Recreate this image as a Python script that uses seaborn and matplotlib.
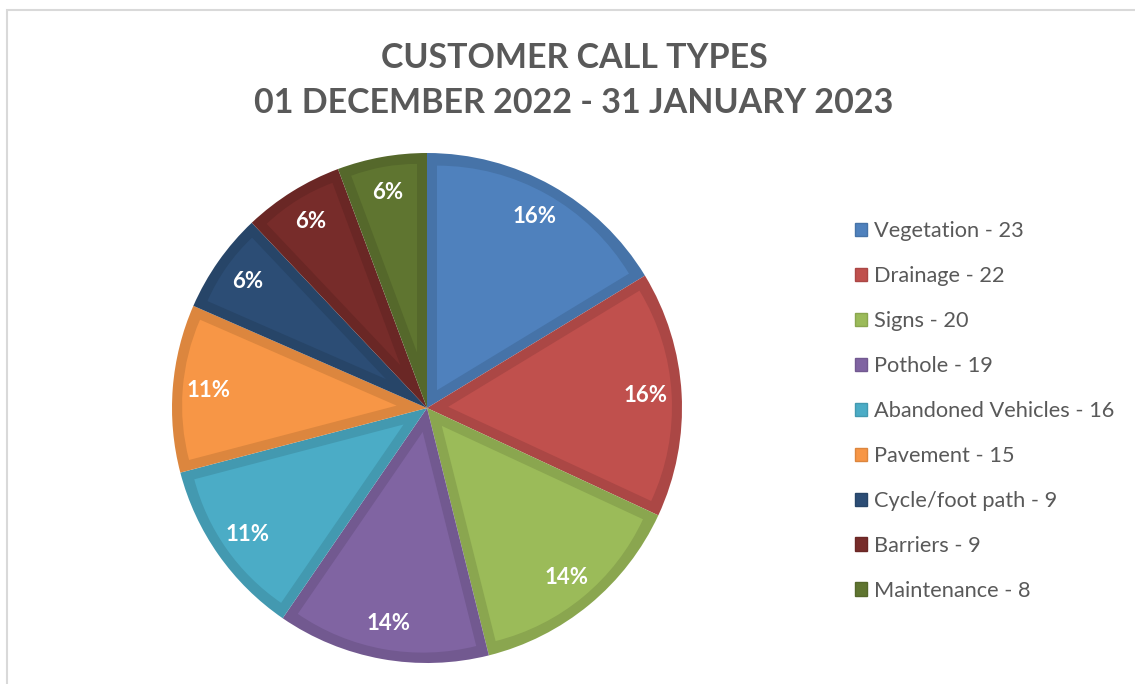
import numpy as np
import seaborn as sns
import matplotlib.pyplot as plt
from matplotlib.colors import to_rgb
from matplotlib.patches import Rectangle, Wedge

sns.set_theme(style="white")
plt.rcParams['font.family'] = ['Lato', 'DejaVu Sans']

# data
categories = ["Vegetation", "Drainage", "Signs", "Pothole", "Abandoned Vehicles",
              "Pavement", "Cycle/foot path", "Barriers", "Maintenance"]
counts = [23, 22, 20, 19, 16, 15, 9, 9, 8]
pct_labels = ["16%", "16%", "14%", "14%", "11%", "11%", "6%", "6%", "6%"]
colors = ["#4F81BD", "#C0504D", "#9BBB59", "#8064A2", "#4BACC6",
          "#F79646", "#2C4D75", "#772C2A", "#5F7530"]

title = "CUSTOMER CALL TYPES\n01 DECEMBER 2022 - 31 JANUARY 2023"
grey = "#595959"


def darker(c, f=0.89):
    return tuple(np.array(to_rgb(c)) * f)


fig = plt.figure(figsize=(11.35, 6.84), dpi=100)

# light frame (only top and left edges are inside the picture)
fig.patches.append(Rectangle((6.5 / 1135, -0.1), 1.2, 1.1 - 10.5 / 684,
                             transform=fig.transFigure, fill=False,
                             edgecolor="#D9D9D9", linewidth=1.5))

cx, cy, r = 427, 408, 255
ax = fig.add_axes([(cx - r) / 1135, (684 - cy - r) / 684, 2 * r / 1135, 2 * r / 684])

# outer pie in the darker border shade
wedges, _ = ax.pie(counts, colors=[darker(c) for c in colors], startangle=90,
                   counterclock=False, radius=1,
                   wedgeprops=dict(edgecolor="none", linewidth=0))
ax.set_xlim(-1, 1)
ax.set_ylim(-1, 1)
ax.set_aspect("equal")
ax.axis("off")

# inset wedge in the main colour, leaving a border of width d on every side
d = 10 / r
for w, c in zip(wedges, colors):
    half = np.deg2rad(w.theta2 - w.theta1) / 2
    mid = np.deg2rad(w.theta1 + w.theta2) / 2
    s = d / np.sin(half)
    ax.add_patch(Wedge((s * np.cos(mid), s * np.sin(mid)), w.r - d - s,
                       w.theta1, w.theta2, facecolor=c, edgecolor="none", linewidth=0))

# percentage labels placed inside each wedge
total = sum(counts)
start = 90.0
for v, lab in zip(counts, pct_labels):
    mid = np.deg2rad(start - 360.0 * v / total / 2)
    ax.text(0.86 * np.cos(mid), 0.86 * np.sin(mid), lab, ha="center", va="center",
            color="white", fontsize=16, fontweight="bold")
    start -= 360.0 * v / total

handles = [Rectangle((0, 0), 1, 1, facecolor=c, edgecolor=darker(c)) for c in colors]
labels = [f"{n} - {v}" for n, v in zip(categories, counts)]
fig.legend(handles, labels, loc="upper left", bbox_to_anchor=(855 / 1135, 1 - 221 / 684),
           frameon=False, fontsize=15.7, labelcolor=grey, handlelength=0.55,
           handleheight=0.55, handletextpad=0.3, labelspacing=1.145, borderpad=0,
           borderaxespad=0)

fig.text(574 / 1135, 1 - 80.5 / 684, title, ha="center", va="center", color=grey,
         fontsize=24.5, fontweight="bold", linespacing=1.5)

fig.savefig("out.png", dpi=100)
